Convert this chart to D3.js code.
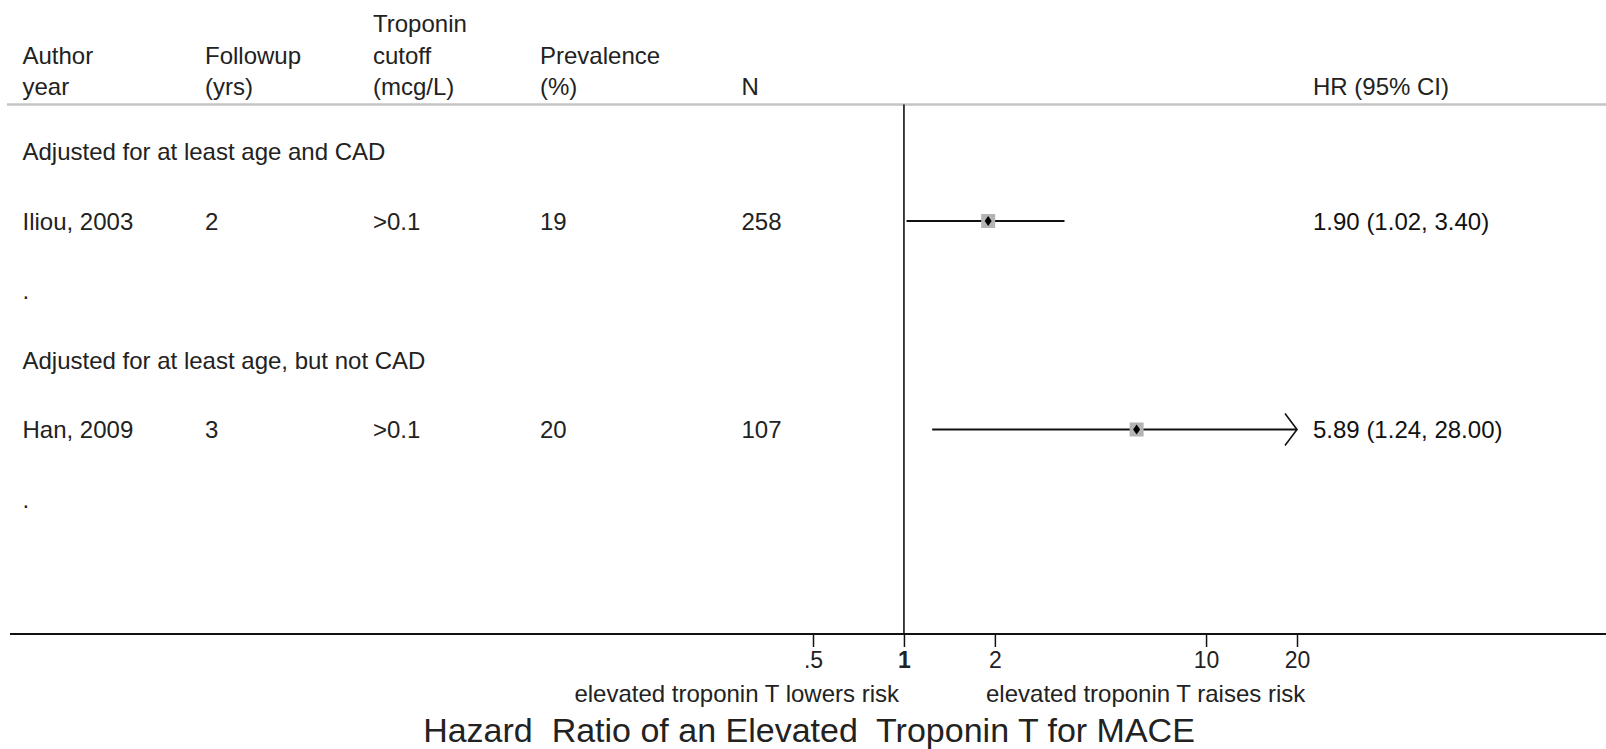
<!DOCTYPE html>
<html>
<head>
<meta charset="utf-8">
<script src="https://cdn.jsdelivr.net/npm/d3@7"></script>
<style>
  body { margin: 0; background: #fff; }
  svg { display: block; font-family: "Liberation Sans", Arial, sans-serif; }
</style>
</head>
<body>
<div id="container"></div>
<script>
// header columns
const headerLines = [
    ["", "", "Troponin", "", "", ""],
    ["Author", "Followup", "cutoff", "Prevalence", "", ""],
    ["year", "(yrs)", "(mcg/L)", "(%)", "N", "HR (95% CI)"]
];
const groups = ["Adjusted for at least age and CAD", "Adjusted for at least age, but not CAD"];
const studies = ["Iliou, 2003", "Han, 2009"];
const followup = ["2", "3"];
const cutoff = [">0.1", ">0.1"];
const prevalence = ["19", "20"];
const nPatients = ["258", "107"];
const hr = [1.90, 5.89];
const ciLow = [1.02, 1.24];
const ciHigh = [3.40, 28.00];
const tickValues = [0.5, 1, 2, 10, 20];
const tickLabels = [".5", "1", "2", "10", "20"];

function renderForest() {
    const width = 1606;
    const height = 749;
    const fontSize = 24;
    const colX = [22.5, 205, 373, 540, 741.5, 1313];
    const headerY = 104.5;
    const axisY = 634;

    const x = d3.scaleLog().domain([0.5, 20]).range([813, 1297]);
    const rowY = d3.scaleLinear().domain([0, 1]).range([151.5, 221]);

    const svg = d3.create("svg")
        .attr("width", width)
        .attr("height", height)
        .attr("viewBox", [0, 0, width, height]);

    // column headers
    headerLines.forEach((line, i) => {
        svg.append("g").selectAll("text")
            .data(line)
            .join("text")
            .attr("x", (d, j) => colX[j])
            .attr("y", 32 + i * 31.5)
            .attr("font-size", fontSize)
            .attr("fill", "#222")
            .text(d => d);
    });

    svg.append("line")
        .attr("x1", 7).attr("x2", width)
        .attr("y1", headerY).attr("y2", headerY)
        .attr("stroke", "#c4c4c4")
        .attr("stroke-width", 2.5);

    // build rows: group label, study, spacer
    const rows = [];
    groups.forEach((g, i) => {
        rows.push({type: "group", cells: [g]});
        rows.push({type: "study", i: i,
            cells: [studies[i], followup[i], cutoff[i], prevalence[i], nPatients[i],
                d3.format(".2f")(hr[i]) + " (" + d3.format(".2f")(ciLow[i]) + ", " + d3.format(".2f")(ciHigh[i]) + ")"]});
        rows.push({type: "blank", cells: ["."]});
    });

    rows.forEach((row, r) => {
        const cy = rowY(r);
        svg.append("g").selectAll("text")
            .data(row.cells)
            .join("text")
            .attr("x", (d, j) => colX[j])
            .attr("y", cy)
            .attr("dy", "0.36em")
            .attr("font-size", fontSize)
            .attr("fill", (d, j) => j === 5 ? "#111" : "#222")
            .text(d => d);

        if (row.type === "study") {
            const i = row.i;
            const hiClipped = Math.min(ciHigh[i], x.domain()[1]);
            svg.append("line")
                .attr("x1", x(ciLow[i])).attr("x2", x(hiClipped))
                .attr("y1", cy).attr("y2", cy)
                .attr("stroke", "#111")
                .attr("stroke-width", 1.8);
            if (ciHigh[i] > x.domain()[1]) {
                const tip = x(x.domain()[1]);
                svg.append("path")
                    .attr("d", `M${tip - 12},${cy - 16}L${tip},${cy}L${tip - 12},${cy + 16}`)
                    .attr("fill", "none")
                    .attr("stroke", "#111")
                    .attr("stroke-width", 1.6);
            }
            svg.append("rect")
                .attr("x", x(hr[i]) - 7).attr("y", cy - 7)
                .attr("width", 14).attr("height", 14)
                .attr("fill", "#b4b4b4");
            svg.append("path")
                .attr("d", `M${x(hr[i])},${cy - 5}L${x(hr[i]) + 3.5},${cy}L${x(hr[i])},${cy + 5}L${x(hr[i]) - 3.5},${cy}Z`)
                .attr("fill", "#000");
        }
    });

    // null line
    svg.append("line")
        .attr("x1", x(1)).attr("x2", x(1))
        .attr("y1", headerY).attr("y2", axisY)
        .attr("stroke", "#111")
        .attr("stroke-width", 1.6);

    // axis
    svg.append("line")
        .attr("x1", 10).attr("x2", width)
        .attr("y1", axisY).attr("y2", axisY)
        .attr("stroke", "#111")
        .attr("stroke-width", 2);

    svg.append("g")
        .attr("transform", `translate(0,${axisY})`)
        .call(d3.axisBottom(x).tickValues(tickValues)
            .tickFormat((d, i) => tickLabels[i]).tickSize(13).tickPadding(5))
        .call(g => g.select(".domain").remove())
        .call(g => g.selectAll(".tick line").attr("stroke", "#111").attr("stroke-width", 1.5))
        .call(g => g.selectAll(".tick text")
            .attr("font-size", 23)
            .attr("font-family", "Liberation Sans, Arial, sans-serif")
            .attr("fill", "#222")
            .attr("font-weight", d => d === 1 ? "bold" : "normal"));

    svg.append("text")
        .attr("x", 899).attr("y", 693).attr("dy", "0.36em")
        .attr("text-anchor", "end")
        .attr("font-size", fontSize)
        .attr("fill", "#222")
        .text("elevated troponin T lowers risk");

    svg.append("text")
        .attr("x", 986).attr("y", 693).attr("dy", "0.36em")
        .attr("text-anchor", "start")
        .attr("font-size", fontSize)
        .attr("fill", "#222")
        .text("elevated troponin T raises risk");

    svg.append("text")
        .attr("x", 809).attr("y", 742)
        .attr("text-anchor", "middle")
        .attr("font-size", 34)
        .attr("fill", "#222")
        .attr("xml:space", "preserve")
        .style("white-space", "pre")
        .text("Hazard  Ratio of an Elevated  Troponin T for MACE");

    document.getElementById("container").append(svg.node());
}

renderForest();
</script>
</body>
</html>
